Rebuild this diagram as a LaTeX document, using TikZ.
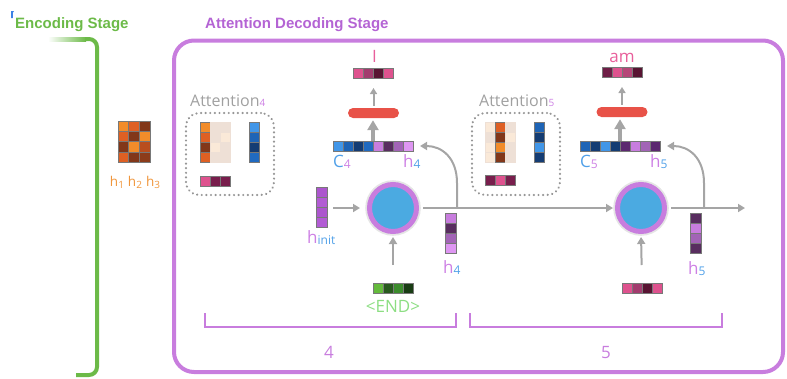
\documentclass[tikz,border=0pt]{standalone}
\usepackage{fontspec}
\setmainfont{Open Sans}
\newfontfamily\headfont{Liberation Sans}
\usetikzlibrary{arrows.meta}

% palette
\definecolor{markblue}{RGB}{60,130,230}
\definecolor{encgreen}{RGB}{108,186,72}
\definecolor{dectitle}{RGB}{180,100,212}
\definecolor{framepur}{RGB}{200,125,222}
\definecolor{flowgray}{RGB}{165,165,165}
\definecolor{dotgray}{RGB}{150,150,150}
\definecolor{textgray}{RGB}{160,160,160}
\definecolor{cblue}{RGB}{75,170,225}
\definecolor{barred}{RGB}{232,82,72}
\definecolor{hpur}{RGB}{205,128,228}
\definecolor{hblue}{RGB}{80,160,232}
\definecolor{horange}{RGB}{240,150,60}
\definecolor{endgreen}{RGB}{140,222,130}
\definecolor{wordpink}{RGB}{232,95,155}
% cell colours
\definecolor{ob}{RGB}{242,140,42}
\definecolor{om}{RGB}{222,96,36}
\definecolor{od}{RGB}{130,55,25}
\definecolor{orb}{RGB}{185,78,30}
\definecolor{odd}{RGB}{140,60,26}
\definecolor{fa1}{RGB}{238,224,214}
\definecolor{fa2}{RGB}{250,233,216}
\definecolor{bl1}{RGB}{65,150,232}
\definecolor{bl2}{RGB}{30,100,182}
\definecolor{bl3}{RGB}{20,60,115}
\definecolor{bl4}{RGB}{32,106,192}
\definecolor{p1}{RGB}{200,125,222}
\definecolor{p2}{RGB}{88,45,95}
\definecolor{p3}{RGB}{162,100,182}
\definecolor{p4}{RGB}{222,150,242}
\definecolor{p5}{RGB}{92,40,112}
\definecolor{pi1}{RGB}{172,86,206}
\definecolor{pi2}{RGB}{178,92,212}
\definecolor{pk1}{RGB}{222,82,142}
\definecolor{pk2}{RGB}{120,30,76}
\definecolor{pk3}{RGB}{162,60,110}
\definecolor{pk4}{RGB}{88,20,50}
\definecolor{pk5}{RGB}{182,70,120}
\definecolor{pk6}{RGB}{110,30,70}
\definecolor{g1}{RGB}{100,186,60}
\definecolor{g2}{RGB}{40,90,30}
\definecolor{g3}{RGB}{60,140,45}
\definecolor{g4}{RGB}{25,60,20}
\definecolor{cellline}{RGB}{120,120,120}

% subscripts
\newcommand\sbs[2]{\raisebox{-0.1em}{\fontsize{12}{12}\selectfont\color{#1}#2}}
\newcommand\osub[1]{\raisebox{-0.15em}{\fontsize{10}{10}\selectfont #1}}
\newcommand\attsub[1]{{\fontsize{10}{10}\selectfont\color{hpur}#1}}

% horizontal vector: name, x, y (top left), cell width, cell count, colours
\newcommand\hvec[6]{%
  \foreach \vc [count=\vi from 0] in {#6}
    \filldraw[cell, fill=\vc] ({#2+\vi*#4},#3) rectangle ++(#4,10);
  \node[vecbox, minimum width={#5*#4}, minimum height=10, anchor=north west] (#1) at (#2,#3) {};
}
% vertical vector: name, x, y (top left), cell width, cell count, colours, border
\newcommand\vvec[7]{%
  \foreach \vc [count=\vi from 0] in {#6}
    \filldraw[cell, draw=#7, fill=\vc] (#2,{#3+\vi*10}) rectangle ++(#4,10);
  \node[vecbox, minimum width=#4, minimum height={#5*10}, anchor=north west] (#1) at (#2,#3) {};
}

\tikzset{
  cell/.style={draw=cellline, line width=0.5},
  vecbox/.style={inner sep=0, outer sep=0, draw=none},
  title/.style={inner sep=0, font=\fontsize{15}{15}\selectfont\headfont\bfseries},
  lbl/.style={inner sep=0, font=\fontsize{17}{17}\selectfont},
  attlbl/.style={inner sep=0, text=textgray, font=\fontsize{16}{16}\selectfont},
  flow/.style={draw=flowgray, line width=2, -{Triangle[width=8pt,length=7pt]}},
  thinup/.style={draw=flowgray, line width=2, -{Triangle[width=7pt,length=6pt]}},
  thickup/.style={draw=flowgray, line width=4, -{Triangle[width=11pt,length=10pt]}},
  rnncell/.style={circle, minimum size=47, inner sep=0, fill=cblue, draw=framepur, line width=5},
  halo/.style={fill=black!10},
  attbox/.style={draw=dotgray, line width=2.4, line cap=round, dash pattern=on 0.01pt off 4.6pt,
    rounded corners=13, minimum width=88, minimum height=82, inner sep=0},
  redbar/.style={fill=barred, rounded corners=5, minimum width=51, minimum height=10, inner sep=0},
  span/.style={draw=framepur, line width=2},
}

\begin{document}
\begin{tikzpicture}[x=1pt,y=-1pt]
\useasboundingbox (0,0) rectangle (787,378);

% corner mark
\fill[markblue] (11,11) -- (14,11) -- (13,12.5) -- (12.8,18) -- (11,18) -- cycle;

% stage titles
\node[title, text=encgreen, anchor=base west] (enctitle) at (15,28) {Encoding Stage};
\node[title, text=dectitle, anchor=base west] (dectitle) at (205,28) {Attention Decoding Stage};

% encoding stage bracket
\shade[left color=white, right color=encgreen] (48,37) rectangle (86,41);
\draw[encgreen, line width=4, rounded corners=8] (85,39) -- (97,39) -- (97,375) -- (76,375);

% decoding stage frame
\draw[framepur, line width=4, rounded corners=20] (174,40.5) rectangle (783,372);

% encoder hidden states
\foreach \gx/\gy/\gc in {0/0/ob,1/0/om,2/0/od,0/1/om,1/1/od,2/1/ob,0/2/od,1/2/ob,2/2/orb,0/3/om,1/3/od,2/3/odd}
  \filldraw[cell, fill=\gc] ({118+\gx*10.6},{121+\gy*10.3}) rectangle ++(10.6,10.3);
\node[inner sep=0, anchor=base, text=horange, font=\fontsize{13.5}{13.5}\selectfont] (hlab) at (135,186)
  {h\osub{1}\kern4pt h\osub{2}\kern4pt h\osub{3}};

% ---- attention 4 ----
\node[attlbl, anchor=base west] (att4lab) at (190,106) {Attention\attsub{4}};
\node[attbox] (att4box) at (230,154) {};
\vvec{a4o}{200}{122}{10}{4}{ob,om,od,om}{cellline}
\vvec{a4f}{210}{122}{10}{4}{fa1,fa1,fa2,fa1}{fa1}
\vvec{a4g}{220}{122}{10}{4}{fa1,fa2,fa1,fa1}{fa1}
\vvec{a4b}{249}{122}{10}{4}{bl1,bl2,bl3,bl4}{cellline}
\hvec{a4p}{200}{176}{10}{3}{pk1,pk2,pk2}

% ---- attention 5 ----
\node[attlbl, anchor=base west] (att5lab) at (479,106) {Attention\attsub{5}};
\node[attbox] (att5box) at (516,154) {};
\vvec{a5f}{485}{122}{10}{4}{fa2,fa1,fa2,fa2}{fa1}
\vvec{a5o}{495}{122}{10}{4}{om,od,ob,od}{cellline}
\vvec{a5g}{505}{122}{10}{4}{fa1,fa2,fa1,fa1}{fa1}
\vvec{a5b}{534}{122}{10}{4}{bl2,bl3,bl1,bl3}{cellline}
\hvec{a5p}{485}{175}{10}{3}{pk2,pk1,pk2}

% ---- decoder step 4 ----
\fill[halo] (393,208) circle (27.8);
\node[rnncell] (c4) at (393,208) {};
\vvec{hinit}{316}{187}{11}{4}{pi1,pi2,pi1,pi2}{cellline}
\node[lbl, anchor=base west] (hinitlab) at (307,243) {\color{hpur}h\sbs{hblue}{init}};
\hvec{end4}{373}{283}{10}{4}{g1,g2,g3,g4}
\node[lbl, anchor=base, text=endgreen] (endlab) at (393,312) {<END>};
\vvec{h4v}{445}{213}{11}{4}{p1,p2,p3,p4}{cellline}
\node[lbl, anchor=base west] (h4vlab) at (443,273) {\color{hpur}h\sbs{hblue}{4}};
\hvec{cat4}{333}{141}{10}{8}{bl1,bl2,bl3,bl4,p1,p2,p3,p4}
\node[lbl, anchor=base west] (c4lab) at (333,167) {\color{hblue}C\sbs{hpur}{4}};
\node[lbl, anchor=base west] (h4lab) at (403,167) {\color{hpur}h\sbs{hblue}{4}};
\node[redbar] (bar4) at (373.5,113) {};
\hvec{out4}{353}{68}{10}{4}{pk1,pk3,pk4,pk1}
\node[lbl, anchor=base, text=wordpink] (word4) at (374.5,62) {I};

% ---- decoder step 5 ----
\fill[halo] (641,208) circle (27.8);
\node[rnncell] (c5) at (641,208) {};
\hvec{in5}{622}{283}{10}{4}{pk1,pk3,pk4,pk1}
\vvec{h5v}{690}{213}{11}{4}{p2,p1,p3,p2}{cellline}
\node[lbl, anchor=base west] (h5vlab) at (688,274) {\color{hpur}h\sbs{hblue}{5}};
\hvec{cat5}{580}{141}{10}{8}{bl2,bl3,bl1,bl3,p5,p1,p3,p5}
\node[lbl, anchor=base west] (c5lab) at (580,167) {\color{hblue}C\sbs{hpur}{5}};
\node[lbl, anchor=base west] (h5lab) at (650,167) {\color{hpur}h\sbs{hblue}{5}};
\node[redbar] (bar5) at (622,112) {};
\hvec{out5}{602}{67}{10}{4}{pk6,pk1,pk5,pk4}
\node[lbl, anchor=base, text=wordpink] (word5) at (622,62) {am};

% junction points and free end
\coordinate (j4) at (457,208);
\coordinate (j5) at (704,208);
\coordinate (tail) at (745,208);

% connectors
\draw[flow, shorten <=6pt, shorten >=7pt] (hinit.east |- c4) -- (c4.west);
\draw[flow, shorten <=18pt, shorten >=3pt] (end4.north) -- (c4.south);
\draw[flow, shorten <=4pt, shorten >=2pt] (c4.east) -- (c5.west);
\draw[flow] (j4) -- ++(0,-25) .. controls +(0,-25) and +(22,0) .. ([xshift=7pt]cat4.east);
\draw[thickup, shorten >=2pt] (cat4.north) -- (cat4.north |- bar4.south);
\draw[thinup, shorten <=2pt, shorten >=10pt] (bar4.north) -- (bar4.north |- out4.south);

\draw[flow, shorten <=18pt, shorten >=3pt] (in5.north) -- (c5.south);
\draw[flow, shorten <=4pt] (c5.east) -- (tail);
\draw[flow] (j5) -- ++(0,-25) .. controls +(0,-25) and +(22,0) .. ([xshift=7pt]cat5.east);
\draw[thickup, shorten >=2pt] (cat5.north) -- (cat5.north |- bar5.south);
\draw[thinup, shorten <=2pt, shorten >=10pt] (bar5.north) -- (bar5.north |- out5.south);

% time step spans
\draw[span] (205,313) -- (205,327) -- (456,327) -- (456,313);
\draw[span] (470,313) -- (470,327) -- (722,327) -- (722,313);
\node[lbl, anchor=base, text=framepur] (t4) at (329,358) {4};
\node[lbl, anchor=base, text=framepur] (t5) at (606,358) {5};
\end{tikzpicture}
\end{document}
